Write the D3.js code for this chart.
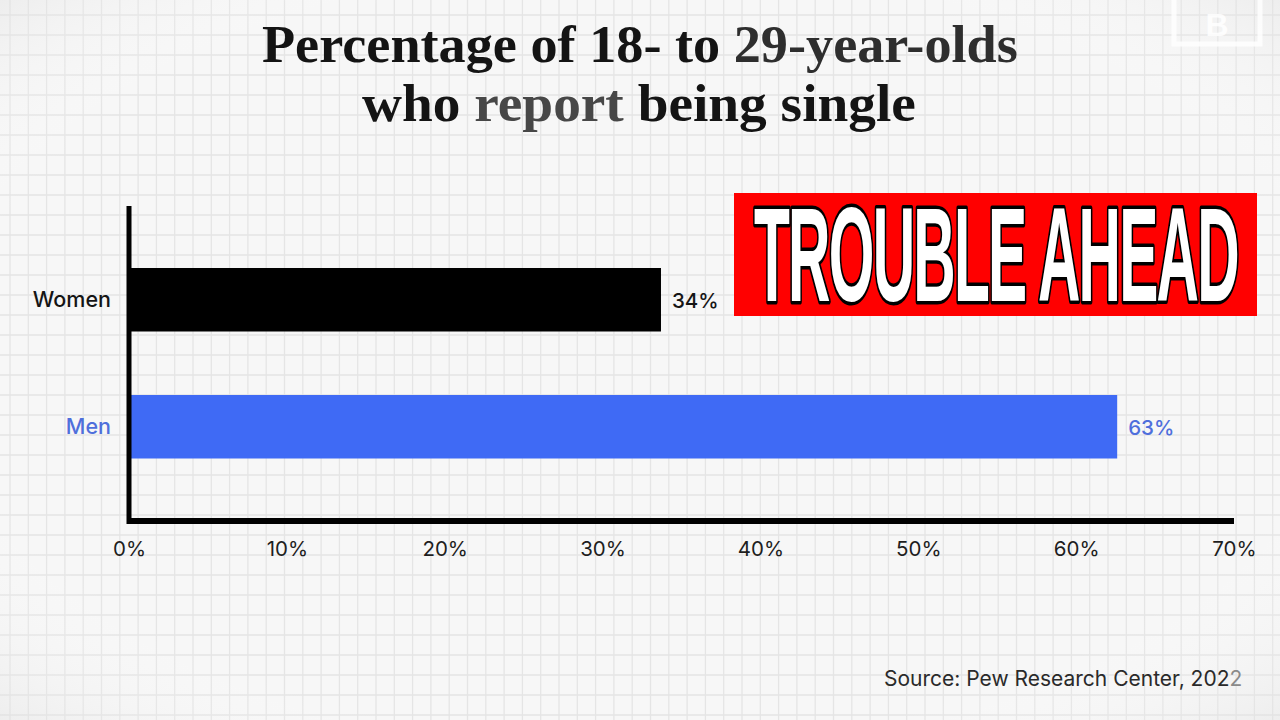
<!DOCTYPE html>
<html>
<head>
<meta charset="utf-8">
<script src="https://cdn.jsdelivr.net/npm/d3@7"></script>
<style>
  html, body { margin: 0; padding: 0; background: #f6f6f6; }
  svg { display: block; }
</style>
</head>
<body>
<svg id="chart" width="1280" height="720"></svg>
<script>
// ---- data ----
const categories = ["Women", "Men"];
const values = [33.7, 62.6];
const valueLabels = ["34%", "63%"];
const tickValues = [0, 10, 20, 30, 40, 50, 60, 70];
const titleLine1 = ["Percentage of 18- to ", "29-year-olds"];
const titleLine2 = ["who ", "report", " being single"];
const stampText = "TROUBLE AHEAD";
const sourceText = "Source: Pew Research Center, 202";
const sourceLast = "2";

const W = 1280, H = 720;
const svg = d3.select("#chart");

// ---- background with grid ----
const defs = svg.append("defs");
const vg = defs.append("radialGradient").attr("id", "vig")
  .attr("cx", "50%").attr("cy", "50%").attr("r", "75%");
vg.append("stop").attr("offset", "0%").attr("stop-color", "#ffffff").attr("stop-opacity", 0);
vg.append("stop").attr("offset", "70%").attr("stop-color", "#ffffff").attr("stop-opacity", 0);
vg.append("stop").attr("offset", "100%").attr("stop-color", "#d8d8d8").attr("stop-opacity", 0.5);

svg.append("rect").attr("width", W).attr("height", H).attr("fill", "#f7f7f7");
const grid = svg.append("g").attr("stroke", "#e5e5e5").attr("stroke-width", 1.3);
grid.selectAll("line.v").data(d3.range(10, W, 18.3)).join("line")
  .attr("x1", d => d).attr("x2", d => d).attr("y1", 0).attr("y2", H);
grid.selectAll("line.h").data(d3.range(15, H, 20)).join("line")
  .attr("x1", 0).attr("x2", W).attr("y1", d => d).attr("y2", d => d);
svg.append("rect").attr("width", W).attr("height", H).attr("fill", "url(#vig)");

// faint logo top right
const logo = svg.append("g").attr("opacity", 0.85);
logo.append("rect").attr("x", 1174).attr("y", -12).attr("width", 86).attr("height", 56)
  .attr("fill", "none").attr("stroke", "#ffffff").attr("stroke-width", 5);
logo.append("text").attr("x", 1217).attr("y", 36).attr("text-anchor", "middle")
  .attr("font-family", "Liberation Sans").attr("font-weight", 700).attr("font-size", 32)
  .attr("fill", "#ffffff").text("B");

// helper: squeeze text horizontally to a given width
function fitWidth(sel, x0, width) {
  const w = sel.node().getComputedTextLength();
  const sx = width / w;
  const yv = +sel.attr("y");
  sel.attr("x", 0).attr("y", 0)
    .attr("transform", `translate(${x0},${yv}) scale(${sx},1)`);
}

// ---- title ----
const tfont = "'Liberation Serif', 'DejaVu Serif', serif";
const t1 = svg.append("text").attr("x", 262).attr("y", 62)
  .attr("font-family", tfont).attr("font-weight", 700).attr("font-size", 53);
t1.append("tspan").attr("fill", "#141414").text(titleLine1[0]);
t1.append("tspan").attr("fill", "#2e2e2e").text(titleLine1[1]);
fitWidth(t1, 262, 756);
const t2 = svg.append("text").attr("x", 362).attr("y", 121)
  .attr("font-family", tfont).attr("font-weight", 700).attr("font-size", 53);
t2.append("tspan").attr("fill", "#141414").text(titleLine2[0]);
t2.append("tspan").attr("fill", "#474747").text(titleLine2[1]);
t2.append("tspan").attr("fill", "#141414").text(titleLine2[2]);
fitWidth(t2, 362, 554);

// ---- scales ----
const x = d3.scaleLinear().domain([0, 70]).range([129, 1234]);
const y = d3.scaleBand().domain(categories).range([204.5, 522])
  .paddingInner(0.5).paddingOuter(0.5);
const colors = { Women: "#000000", Men: "#3f6af5" };
const labelColors = { Women: "#151515", Men: "#4f6fdc" };
const sans = "Inter, 'Open Sans', sans-serif";

// bars
svg.append("g").selectAll("rect").data(categories).join("rect")
  .attr("x", x(0) + 2)
  .attr("y", d => y(d))
  .attr("width", (d, i) => x(values[i]) - x(0) - 2)
  .attr("height", y.bandwidth())
  .attr("fill", d => colors[d]);

// value labels
svg.append("g").selectAll("text").data(categories).join("text")
  .attr("x", (d, i) => x(values[i]) + 11)
  .attr("y", d => y(d) + y.bandwidth() / 2 + 1)
  .attr("dominant-baseline", "central")
  .attr("font-family", sans)
  .attr("font-size", 20.5).attr("font-weight", 500)
  .attr("fill", d => labelColors[d])
  .text((d, i) => valueLabels[i]);

// x axis
const xAxis = svg.append("g").attr("transform", "translate(0,521)")
  .call(d3.axisBottom(x).tickValues(tickValues).tickFormat(d => d + "%")
    .tickSize(0).tickSizeOuter(0).tickPadding(20));
xAxis.select(".domain").attr("stroke", "#000").attr("stroke-width", 6)
  .attr("d", `M${x(0) - 2},0H${x(70)}`);
xAxis.selectAll("text").attr("font-family", sans)
  .attr("font-size", 20.5).attr("fill", "#1e1e1e");

// y axis
const yAxis = svg.append("g").attr("transform", `translate(${x(0)},0)`)
  .call(d3.axisLeft(y).tickSize(0).tickSizeOuter(0).tickPadding(18));
yAxis.select(".domain").attr("stroke", "#000").attr("stroke-width", 5)
  .attr("d", `M0,206V524`);
yAxis.selectAll("text").attr("font-family", sans)
  .attr("font-size", 21.5).attr("font-weight", 500)
  .attr("fill", d => labelColors[d]);

// ---- stamp ----
svg.append("rect").attr("x", 734).attr("y", 193).attr("width", 523).attr("height", 123)
  .attr("fill", "#ff0000");
const stamp = svg.append("text").attr("x", 752).attr("y", 301)
  .attr("font-family", "'Liberation Sans', Arial, sans-serif").attr("font-weight", 700)
  .attr("font-size", 134)
  .attr("fill", "#ffffff").attr("stroke", "#000000").attr("stroke-width", 7)
  .attr("paint-order", "stroke").attr("stroke-linejoin", "round")
  .attr("letter-spacing", -4)
  .text(stampText);
fitWidth(stamp, 754, 484);

// ---- source ----
const src = svg.append("text").attr("x", 884).attr("y", 686)
  .attr("font-family", sans).attr("font-size", 21)
  .attr("fill", "#2a2a2a");
src.append("tspan").text(sourceText);
src.append("tspan").attr("fill", "#8a8a8a").text(sourceLast);
</script>
</body>
</html>
